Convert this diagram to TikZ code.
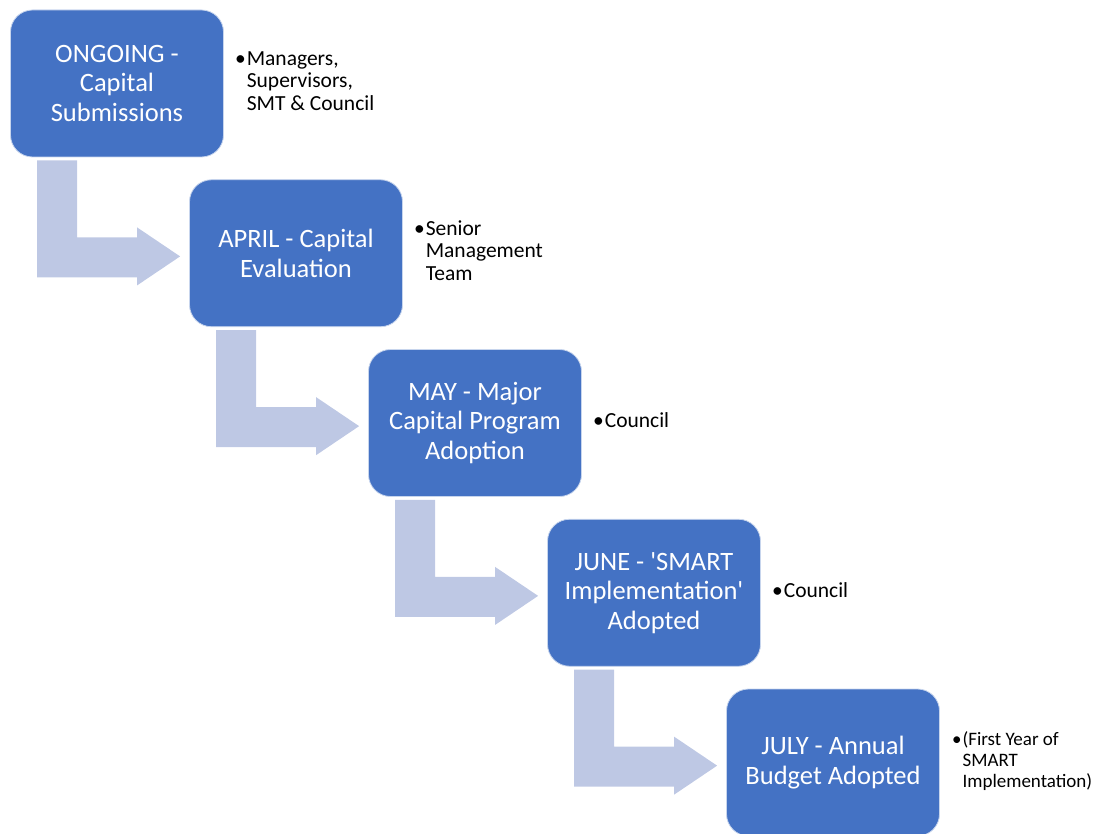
\documentclass[tikz,border=0pt]{standalone}
\usepackage{fontspec}
\setmainfont{Carlito}
\usetikzlibrary{positioning}
\definecolor{stageblue}{HTML}{4472C4}
\definecolor{bendgrey}{HTML}{BEC8E4}
\newcommand{\bulleted}[1]{\textbullet\hspace{1pt}\begin{tabular}[t]{@{}l@{}}#1\end{tabular}}

\begin{document}
\begin{tikzpicture}[x=1pt, y=-1pt,
    stage/.style={rectangle, rounded corners=22pt, fill=stageblue,
      draw=white!70!stageblue, line width=.8pt, minimum width=213pt,
      minimum height=147pt, text=white, align=center,
      font=\fontsize{26.5}{29.5}\selectfont},
    who/.style={anchor=west, inner sep=0pt, font=\fontsize{21.5}{22.5}\selectfont},
    bendarrow/.style={fill=bendgrey}]
  \useasboundingbox (0,0) rectangle (1106,834);
  \foreach \txt [count = \i] in {{ONGOING -\\Capital\\Submissions},
      {APRIL - Capital\\Evaluation},
      {MAY - Major\\Capital Program\\Adoption},
      {JUNE - \textquotesingle SMART\\Implementation\textquotesingle\\Adopted},
      {JULY - Annual\\Budget Adopted}}{
    \node[stage] (s\i) at ({117+179*(\i-1)}, {83.5+169.75*(\i-1)}) {\txt};
  }
  % bent arrows between the stages
  \foreach \i in {1,...,4}{
    \fill[bendarrow, shift={(s\i.south west)}] (27,3) -- (67,3) -- (67,80)
      -- (127,80) -- (127,70) -- (170,99) -- (127,128) -- (127,120)
      -- (27,120) -- cycle;
  }
  \node[who] (w1) at ([xshift=11pt]s1.east) {\bulleted{Managers,\\Supervisors,\\SMT \& Council}};
  \node[who] (w2) at ([xshift=11pt]s2.east) {\bulleted{Senior\\Management\\Team}};
  \node[who] (w3) at ([xshift=11pt]s3.east) {\bulleted{Council}};
  \node[who] (w4) at ([xshift=11pt]s4.east) {\bulleted{Council}};
  \node[who, font=\fontsize{19}{21}\selectfont] (w5) at ([xshift=12pt]s5.east)
    {\bulleted{(First Year of\\SMART\\Implementation)}};
\end{tikzpicture}
\end{document}
